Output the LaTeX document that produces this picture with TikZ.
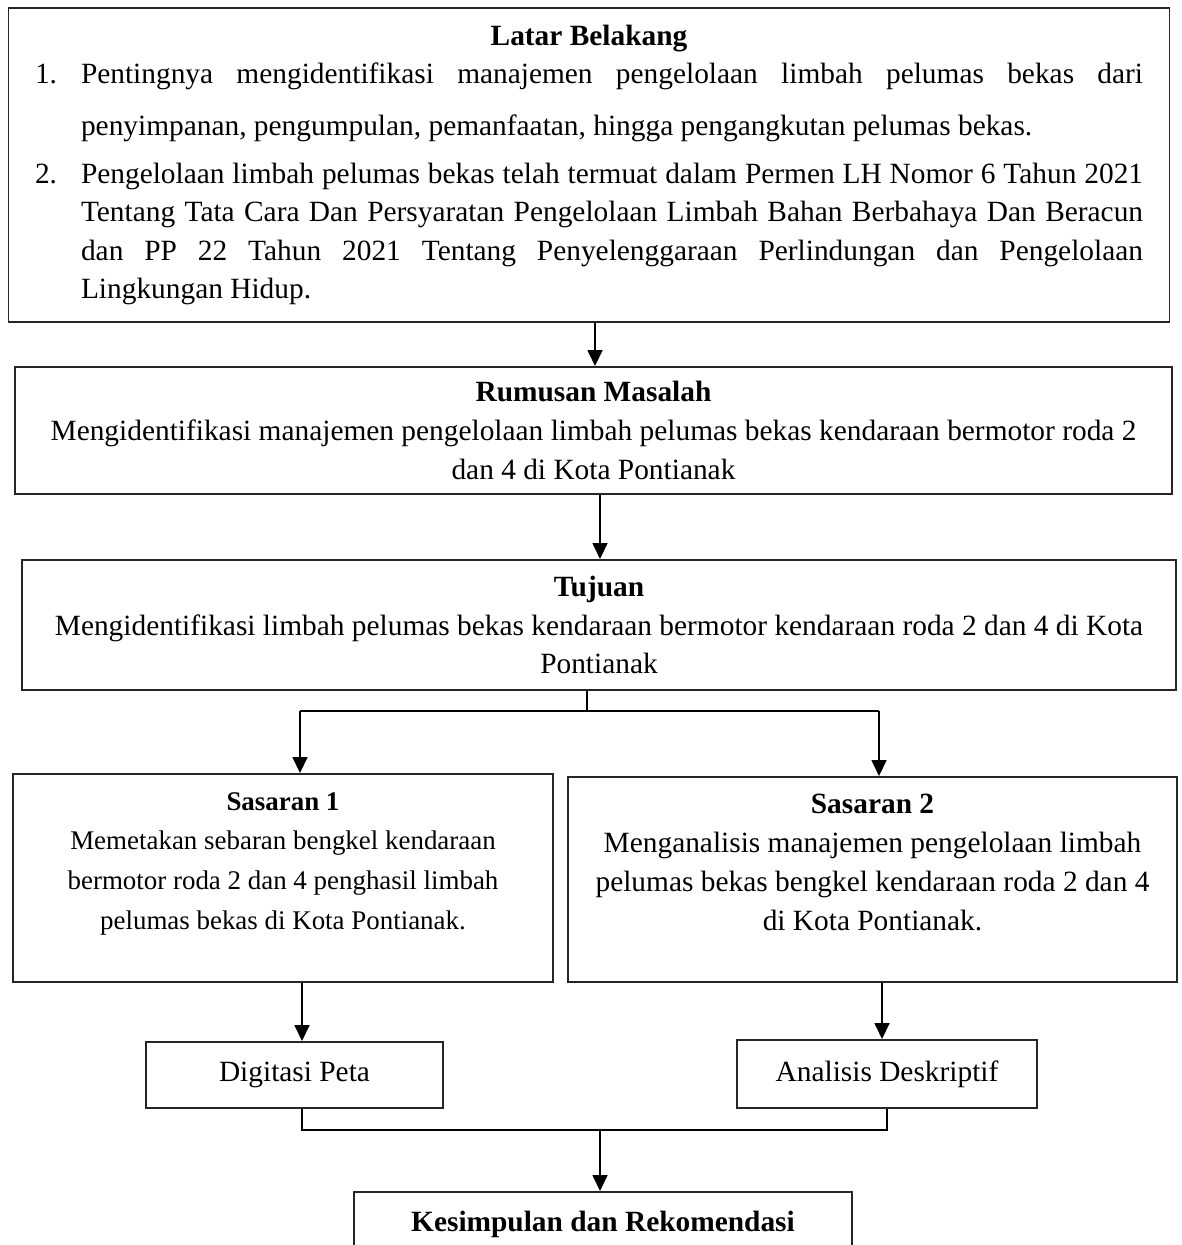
\documentclass[tikz,border=0pt]{standalone}
\usepackage{fontspec}
\setmainfont{Liberation Serif}
\usetikzlibrary{arrows.meta,positioning}
\hyphenpenalty=10000
\exhyphenpenalty=10000
\def\pxu{0.4085pt}
\newcommand{\numitem}[2]{\par\noindent\hangindent=18.8pt\hangafter=1%
  \makebox[18.8pt][l]{#1}#2\par}
\newcommand{\lowpad}[1]{\rule[-#1]{0pt}{#1}}
\tikzset{
  basebox/.style={rectangle,draw=black!85,line width=0.75pt,inner sep=0pt,
                  align=center,font=\fontsize{12}{15.9}\selectfont},
  smallbox/.style={basebox,font=\fontsize{11}{16.3}\selectfont},
  arr/.style={-{Triangle[length=6.5pt,width=6pt]},line width=0.9pt,color=black},
  joinline/.style={line width=0.8pt,color=black}
}
\begin{document}
\begin{tikzpicture}[x=0.4085pt,y=-0.4085pt]
  \useasboundingbox (0,0) rectangle (1181,1245);
  \clip (0,0) rectangle (1181,1245);

  % Latar belakang
  \node[basebox,minimum width=1161*\pxu,minimum height=314*\pxu,
        text width=1108*\pxu,align=justify] (latar) at (589,165)
      {{\noindent\centering\bfseries Latar Belakang\par}
       \vspace{-5.7pt}
       {\fontsize{12}{21.2}\selectfont
        \numitem{1.}{Pentingnya mengidentifikasi manajemen pengelolaan limbah
          pelumas bekas dari\linebreak penyimpanan, pengumpulan, pemanfaatan,
          hingga pengangkutan pelumas bekas.}}
       \vspace{3.9pt}
       {\fontsize{12}{15.7}\selectfont
        \numitem{2.}{Pengelolaan limbah pelumas bekas telah termuat dalam
          Permen LH Nomor 6 Tahun 2021\linebreak Tentang Tata Cara Dan
          Persyaratan Pengelolaan Limbah Bahan Berbahaya Dan
          Beracun\linebreak dan PP 22 Tahun 2021 Tentang Penyelenggaraan
          Perlindungan dan Pengelolaan\linebreak Lingkungan Hidup.}}};

  % Rumusan masalah
  \node[basebox,minimum width=1157*\pxu,minimum height=127*\pxu]
      (rumusan) at (593.5,430.5)
      {\textbf{Rumusan Masalah}\\
       Mengidentifikasi manajemen pengelolaan limbah pelumas bekas kendaraan
       bermotor roda 2\\
       dan 4 di Kota Pontianak};

  % Tujuan
  \node[basebox,minimum width=1154*\pxu,minimum height=130*\pxu]
      (tujuan) at (599,625)
      {\textbf{Tujuan}\\
       Mengidentifikasi limbah pelumas bekas kendaraan bermotor kendaraan
       roda 2 dan 4 di Kota\\
       Pontianak};

  % Sasaran
  \node[smallbox,minimum width=540*\pxu,minimum height=208*\pxu]
      (sasaran1) at (283,878)
      {\textbf{Sasaran 1}\\
       Memetakan sebaran bengkel kendaraan\\
       bermotor roda 2 dan 4 penghasil limbah\\
       pelumas bekas di Kota Pontianak.\lowpad{13.9pt}};

  \node[basebox,minimum width=609*\pxu,minimum height=205*\pxu]
      (sasaran2) at (872.5,879.5)
      {\textbf{Sasaran 2}\\
       Menganalisis manajemen pengelolaan limbah\\
       pelumas bekas bengkel kendaraan roda 2 dan 4\\
       di Kota Pontianak.\lowpad{14.1pt}};

  % Metode
  \node[basebox,minimum width=297*\pxu,minimum height=66*\pxu]
      (digitasi) at (294.5,1075) {Digitasi Peta};
  \node[basebox,minimum width=300*\pxu,minimum height=68*\pxu]
      (analisis) at (887,1074) {Analisis Deskriptif};

  % Kesimpulan
  \node[basebox,minimum width=498*\pxu,minimum height=64*\pxu]
      (kesimpulan) at (603,1224) {\textbf{Kesimpulan dan Rekomendasi}};

  % Junction points
  \coordinate (c1) at (595,0);
  \coordinate (c2) at (600,0);
  \coordinate (split) at (587,711);
  \coordinate (t1) at (300,711);
  \coordinate (t2) at (879,711);
  \coordinate (s1) at (302,0);
  \coordinate (s2) at (882,0);
  \coordinate (m1) at (302,1130);
  \coordinate (m2) at (887,1130);
  \coordinate (merge) at (600,1130);

  % Arrows
  \draw[arr] (latar.south -| c1) -- (rumusan.north -| c1);
  \draw[arr] (rumusan.south -| c2) -- (tujuan.north -| c2);
  \draw[joinline] (tujuan.south -| split) -- (split);
  \draw[joinline] (t1) -- (t2);
  \draw[arr] (t1) -- (sasaran1.north -| t1);
  \draw[arr] (t2) -- (sasaran2.north -| t2);
  \draw[arr] (sasaran1.south -| s1) -- (digitasi.north -| s1);
  \draw[arr] (sasaran2.south -| s2) -- (analisis.north -| s2);
  \draw[joinline] (digitasi.south -| m1) -- (m1) -- (m2)
      -- (analisis.south -| m2);
  \draw[arr] (merge) -- (kesimpulan.north -| merge);

\end{tikzpicture}
\end{document}
